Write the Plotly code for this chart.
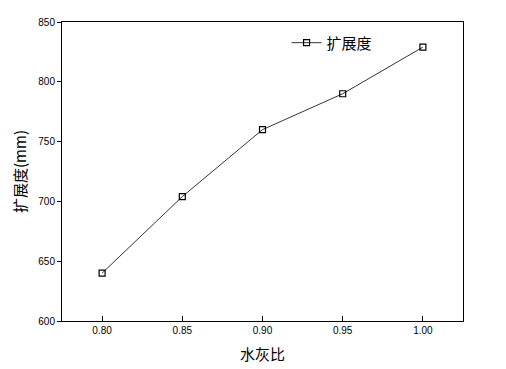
import plotly.graph_objects as go

x_vals = [0.80, 0.85, 0.90, 0.95, 1.00]
y_vals = [640, 704, 760, 790, 829]
x_ticks = [0.80, 0.85, 0.90, 0.95, 1.00]
x_tick_text = ["0.80", "0.85", "0.90", "0.95", "1.00"]
y_ticks = [600, 650, 700, 750, 800, 850]
series_name = "扩展度"

fig = go.Figure()
fig.add_trace(go.Scatter(
    x=x_vals, y=y_vals, mode="lines+markers", name=series_name,
    line=dict(color="black", width=0.8),
    marker=dict(symbol="square-open", size=6, color="black", line=dict(width=1.2)),
))

fig.update_layout(
    width=506, height=369,
    margin=dict(l=62, r=43, t=22, b=48),
    paper_bgcolor="white", plot_bgcolor="white",
    font=dict(family="Arial, Liberation Sans, sans-serif", color="black", size=10),
    showlegend=True,
    legend=dict(x=0.56, y=0.93, xanchor="left", yanchor="middle",
                bgcolor="rgba(0,0,0,0)", font=dict(size=15, family="Noto Sans CJK SC"),
                itemwidth=30),
    xaxis=dict(
        range=[0.775, 1.025], tickvals=x_ticks, ticktext=x_tick_text,
        ticks="inside", ticklen=5, tickcolor="black", tickwidth=1,
        showline=True, linecolor="black", linewidth=1, mirror=True,
        showgrid=False, zeroline=False, automargin=False,
        title=dict(text="水灰比", font=dict(size=15, family="Noto Sans CJK SC"), standoff=14),
    ),
    yaxis=dict(
        range=[600, 850], tickvals=y_ticks,
        ticks="outside", ticklen=4, tickcolor="black", tickwidth=1,
        showline=True, linecolor="black", linewidth=1, mirror=True,
        showgrid=False, zeroline=False, automargin=False,
        title=dict(text="扩展度(mm)", font=dict(size=15, family="Noto Sans CJK SC"), standoff=8),
    ),
)

fig.write_html("out.html")
